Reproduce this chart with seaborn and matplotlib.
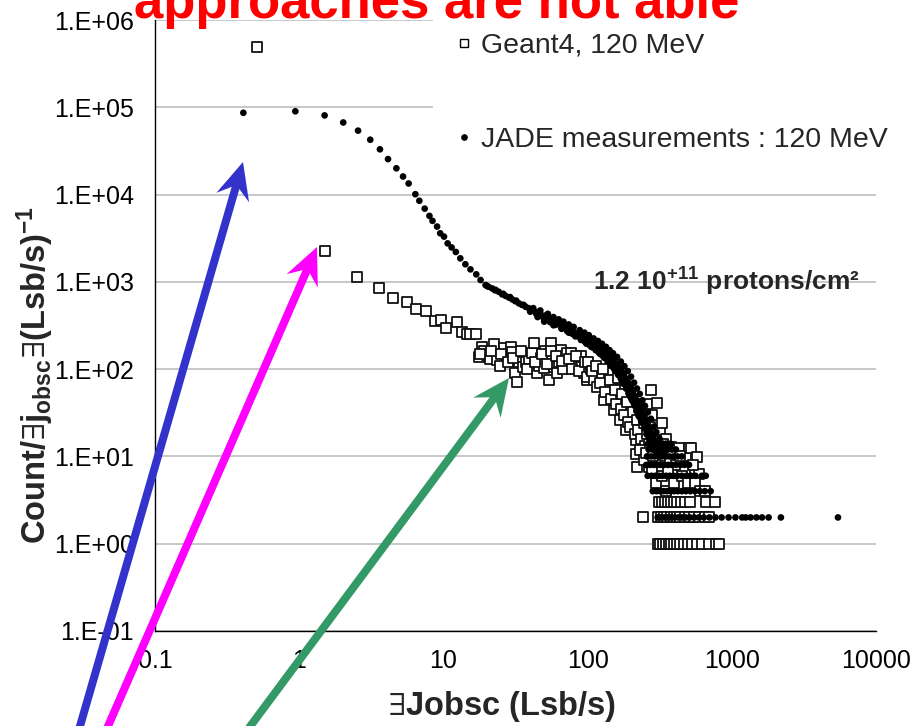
import numpy as np
import pandas as pd
import matplotlib
matplotlib.use("Agg")
import matplotlib.pyplot as plt
import seaborn as sns
from matplotlib.lines import Line2D
from matplotlib.patches import Polygon

# ---------------------------------------------------------------------------
# Geant4 simulation, 120 MeV (counts per Jobsc bin)
# ---------------------------------------------------------------------------
geant_x = [
    0.51, 1.52, 2.50, 3.56, 4.50, 5.59, 6.49, 7.58, 8.71, 9.68, 10.5, 12.4,
    13.5, 14.5, 15.4, 16.7, 17.6, 18.6, 19.0, 20.1, 21.0, 22.3, 23.5, 24.5,
    26.2, 27.5, 29.2, 29.9, 31.6, 32.5, 33.5, 35.5, 37.1, 39.0, 41.2, 42.4,
    44.7, 46.0, 47.2, 49.8, 51.0, 53.9, 55.3, 57.0, 58.3, 61.7, 63.0, 65.0,
    68.0, 70.0, 72.3, 76.3, 80.4, 85.0, 89.3, 90.0, 94.2, 99.4,
    18.0, 21.5, 25.0, 28.0, 30.5, 34.5, 38.0, 43.5, 48.5, 52.5, 56.0, 60.0,
    66.5, 74.0, 78.0, 83.0, 87.0, 96.0,
    99.4, 105, 110, 117, 125, 130, 135, 140, 150, 152, 160, 165, 169, 175,
    180, 184, 195, 200, 210, 215, 215, 221, 230, 240, 250, 260, 267, 274,
    280, 290, 305, 310, 320, 330, 340, 350, 360, 377, 395, 420, 428, 450,
    480, 505, 519, 578, 593,
    100, 108, 115, 122, 128, 132, 142, 145, 155, 158, 163, 170, 172, 178,
    188, 190, 198, 205, 212, 220, 225, 235, 245, 252, 258, 265, 272, 285,
    295, 300, 315, 325, 335, 345, 370, 385, 410, 440, 470, 540,
    230, 245, 255, 285, 280, 300, 330, 350, 360, 400, 450, 500, 560, 600, 650,
    311, 328, 345, 362, 380, 400, 420, 445, 470, 510, 660, 770,
    241, 306, 322, 340, 358, 376, 395, 415, 440, 470, 505, 545, 590, 650, 700,
    306, 320, 335, 350, 365, 380, 398, 418, 440, 465, 495, 530, 570, 620,
    690, 780, 810,
]
geant_y = [
    490000, 2250, 1140, 855, 647, 582, 484, 466, 356, 365, 293, 349,
    268, 252, 250, 252, 137, 181, 160, 145, 130, 194, 127, 110,
    173, 140, 181, 158, 89.5, 70.6, 120, 105, 122, 130, 152, 197,
    89.5, 110, 133, 102, 160, 75, 197, 130, 107, 89.5, 120, 166,
    100, 135, 152, 152, 116, 125, 107, 140, 89.5, 75,
    150, 160, 150, 120, 135, 160, 100, 120, 150, 115, 160, 140,
    125, 130, 100, 140, 95, 120,
    81.9, 100, 75, 62.8, 85, 44.3, 60, 90, 70, 34, 50, 60, 26, 40,
    48, 20, 30, 38, 25, 15.4, 10.8, 7.6, 30, 20, 16, 40, 7.6, 57.5,
    30, 18, 40.5, 15, 20, 24, 12, 16, 11, 12.9, 9, 12, 12.6, 8,
    10, 12.6, 12.6, 9.9, 6.3,
    120, 95, 110, 70, 100, 55, 75, 45, 58, 40, 80, 35, 52, 30,
    42, 25, 22, 32, 18, 26, 20, 16, 24, 13, 18, 14, 22, 13,
    15, 11, 12, 9, 14, 10, 9, 11, 8, 10, 7, 8,
    12, 9, 11, 10, 7, 5, 6, 4, 7, 5, 6, 5, 5, 4, 4,
    3, 3, 3, 3, 3, 3, 3, 3, 3, 3, 3, 3,
    2, 2, 2, 2, 2, 2, 2, 2, 2, 2, 2, 2, 2, 2, 2,
    1, 1, 1, 1, 1, 1, 1, 1, 1, 1, 1, 1, 1, 1,
    1, 1, 1,
]

# ---------------------------------------------------------------------------
# JADE measurements, 120 MeV
# ---------------------------------------------------------------------------
jade_x = [
    0.41, 0.94, 1.50, 2.02, 2.56, 3.11, 3.63, 4.13, 4.72, 5.25, 5.74, 6.39,
    6.81, 7.42, 8.00, 8.40, 9.04, 9.50, 10.1, 10.7, 11.4, 12.2, 13.1, 14.2,
    15.4, 16.9, 18.1, 19.6, 20.5, 21.8, 22.8, 24.2, 25.5, 27.0, 28.5, 30.0,
    31.5, 33.4, 35.0, 37.1, 39.0,
    40, 44, 48, 52, 56, 60, 65, 70, 75, 80, 86, 92, 98, 104, 110, 116, 122,
    128, 134, 140, 147, 154, 160, 167, 174, 180, 187, 194, 200, 207, 214,
    220, 227, 234, 240, 248, 255, 262, 270, 280, 292, 305,
    42, 47, 53, 58, 63, 68, 74, 80, 88, 95, 102, 110, 118, 126, 134, 142,
    150, 160, 170, 180, 190, 200, 210, 220, 230, 240, 250, 262, 275, 288,
    300, 315, 330, 350,
    50, 58, 66, 74, 82, 90, 98, 106, 114, 122, 130, 138, 146, 154, 162, 170,
    178, 186, 194, 202, 210, 218, 226, 236, 246, 256, 266, 278, 290, 300,
    20, 23, 26, 29, 32, 36, 41, 45, 50, 55, 59, 64, 69, 74, 79, 85, 91, 97,
    103, 109, 115, 121, 127, 133, 139, 145, 152, 158, 165, 172, 178, 185,
    192, 199, 206, 213, 220, 228, 236, 244, 252, 262, 272, 284, 298, 312,
    328, 345,
    45, 50, 55, 60, 66, 72, 78, 84, 90, 96, 102, 108, 114, 120, 126, 132,
    138, 144, 150, 157, 164, 171, 178, 185, 192, 198, 205, 212, 219, 226,
    233, 241, 250, 258, 266, 276, 286, 298, 310,
    262, 278, 295, 312, 330, 350, 375,
    265, 282, 300, 318, 338, 360, 385, 410,
    258, 275, 292, 310, 328, 348, 370, 395, 420, 450,
    255, 270, 286, 302, 320, 340, 362, 385, 410, 440, 470, 505,
    261, 278, 295, 312, 330, 350, 372, 395, 420, 450, 485, 520, 560, 620, 660,
    283, 300, 318, 336, 355, 375, 398, 422, 450, 480, 515, 555, 600, 650, 714,
    306, 322, 340, 358, 378, 400, 425, 452, 480, 512, 548, 590, 640, 700,
    770, 850, 950, 1060, 1180, 1250, 1350, 1480, 1620, 1800, 2190, 5450,
]
jade_y = [
    86500, 90000, 80700, 67000, 54000, 42500, 33000, 25500, 20000, 16100,
    13400, 10100, 8500, 6900, 5700, 5000, 4300, 3600, 3300, 2760, 2480, 2200,
    1860, 1590, 1390, 1220, 1050, 920, 880, 840, 800, 770, 720, 690, 660, 630,
    600, 567, 545, 519, 500,
    455, 430, 405, 385, 365, 340, 318, 298, 278, 260, 242, 225, 210, 198, 185,
    175, 165, 156, 147, 138, 127, 118, 108, 98, 88, 80, 70, 63, 56, 50, 44,
    40, 35, 31, 28, 24, 22, 20, 18, 16, 14, 13,
    500, 470, 430, 395, 372, 350, 325, 305, 280, 262, 245, 225, 210, 195, 180,
    165, 152, 138, 122, 108, 95, 82, 70, 60, 52, 44, 38, 32, 27, 22,
    19, 16, 14, 12,
    350, 318, 290, 262, 238, 216, 196, 180, 165, 150, 136, 122, 110, 98, 88,
    78, 68, 60, 52, 45, 39, 33, 29, 25, 21, 18, 16, 14, 12, 11,
    900, 810, 730, 670, 610, 545, 480, 450, 410, 380, 362, 335, 312, 292, 275,
    255, 238, 222, 210, 195, 185, 175, 165, 155, 145, 135, 125, 116, 105, 95,
    86, 78, 70, 62, 55, 49, 44, 38, 33, 29, 26, 23, 20, 17, 15, 13,
    11.5, 10.5,
    395, 370, 345, 322, 296, 274, 255, 238, 220, 205, 191, 178, 166, 154, 144,
    134, 124, 114, 105, 95, 85, 76, 68, 60, 53, 48, 43, 38, 34, 30,
    27, 24, 21, 18.5, 16.5, 15, 13.5, 12, 10.5,
    14, 14, 14, 14, 14, 14, 14,
    12, 12, 12, 12, 12, 12, 12, 12,
    10, 10, 10, 10, 10, 10, 10, 10, 10, 10,
    8, 8, 8, 8, 8, 8, 8, 8, 8, 8, 8, 8,
    6, 6, 6, 6, 6, 6, 6, 6, 6, 6, 6, 6, 6, 6, 6,
    4, 4, 4, 4, 4, 4, 4, 4, 4, 4, 4, 4, 4, 4, 4,
    2, 2, 2, 2, 2, 2, 2, 2, 2, 2, 2, 2, 2, 2,
    2, 2, 2, 2, 2, 2, 2, 2, 2, 2, 2, 2,
]

legend_labels = ["Geant4, 120 MeV", "JADE measurements : 120 MeV"]
x_tick_values = [0.1, 1, 10, 100, 1000, 10000]
x_tick_labels = ["0.1", "1", "10", "100", "1000", "10000"]
y_tick_values = [1e-1, 1e0, 1e1, 1e2, 1e3, 1e4, 1e5, 1e6]
y_tick_labels = ["1.E-01", "1.E+00", "1.E+01", "1.E+02", "1.E+03",
                 "1.E+04", "1.E+05", "1.E+06"]

title_text = "approaches are not able"
fluence_text = r"1.2 10$^{\mathbf{+11}}$ protons/cm²"
x_title = r"$\exists$Jobsc (Lsb/s)"
y_title = r"Count/$\exists$j$_{\mathbf{obsc}}$$\exists$(Lsb/s)$^{\mathbf{-1}}$"

# ---------------------------------------------------------------------------
sns.set_style("white")
plt.rcParams["font.family"] = ["Liberation Sans", "DejaVu Sans"]
plt.rcParams["mathtext.fontset"] = "custom"
plt.rcParams["mathtext.rm"] = "Liberation Sans:bold"
plt.rcParams["mathtext.bf"] = "Liberation Sans:bold"
plt.rcParams["mathtext.it"] = "Liberation Sans:bold"
plt.rcParams["mathtext.fallback"] = "stixsans"

W, H = 915, 726
fig = plt.figure(figsize=(W / 100, H / 100), dpi=100)
fig.patch.set_facecolor("white")
ax = fig.add_axes([155 / W, (H - 631) / H, (876 - 155) / W, (631 - 20) / H])
ax.set_facecolor("white")

geant = pd.DataFrame({"x": geant_x, "y": geant_y})
jade = pd.DataFrame({"x": jade_x, "y": jade_y})

ax.set_xscale("log")
ax.set_yscale("log")
sns.scatterplot(data=geant, x="x", y="y", marker="s", s=60, color="white",
                edgecolor="#111111", linewidth=1.3, ax=ax, legend=False,
                zorder=3, clip_on=False)
sns.scatterplot(data=jade, x="x", y="y", marker="o", s=23, color="black",
                edgecolor="none", linewidth=0, ax=ax, legend=False,
                zorder=4, clip_on=False)

ax.set_xlim(0.1, 10000)
ax.set_ylim(0.1, 1e6)
ax.set_xticks(x_tick_values)
ax.set_xticklabels(x_tick_labels)
ax.set_yticks(y_tick_values)
ax.set_yticklabels(y_tick_labels)
ax.minorticks_off()

ax.grid(False)
ax.yaxis.grid(True, color="#c4c4c4", linewidth=1.3)
ax.set_axisbelow(True)
for side in ("top", "right"):
    ax.spines[side].set_visible(False)
for side in ("left", "bottom"):
    ax.spines[side].set_color("black")
    ax.spines[side].set_linewidth(1.0)

ax.tick_params(axis="both", direction="out", length=6, width=1,
               color="black", labelsize=18, labelcolor="black")
ax.tick_params(axis="y", pad=9)
ax.tick_params(axis="x", pad=7)

ax.set_xlabel(x_title, fontsize=23.5, fontweight="bold")
ax.set_ylabel(y_title, fontsize=23.5, fontweight="bold")
ax.xaxis.set_label_coords((501 - 155) / 721, (631 - 706) / 611)
ax.xaxis.label.set_va("center")
ax.yaxis.set_label_coords((35 - 155) / 721, (631 - 375) / 611)
ax.yaxis.label.set_va("center")

handles = [
    Line2D([], [], ls="none", marker="s", markersize=6,
           markerfacecolor="white", markeredgecolor="black",
           markeredgewidth=1.0),
    Line2D([], [], ls="none", marker="o", markersize=3.8,
           markerfacecolor="black", markeredgecolor="black"),
]
leg = ax.legend(handles, legend_labels, loc="upper left",
                bbox_to_anchor=(433 / W, (H - 10) / H),
                bbox_transform=fig.transFigure, frameon=True,
                facecolor="white", edgecolor="none", framealpha=1,
                fancybox=False, fontsize=20.5, borderpad=0.8,
                labelspacing=2.38, handlelength=0.6, handletextpad=0.3,
                borderaxespad=0)
leg.set_zorder(5)

fig.text(593 / W, 1 - 291 / H, fluence_text, fontsize=19, fontweight="bold",
         ha="left", va="baseline")

fig.text(437 / W, 1 - 18 / H, title_text, fontsize=38, fontweight="bold",
         color="#FF0000", ha="center", va="baseline")


def draw_arrow(tail, tip, color, shaft=4.0, head_len=37, head_half=17,
               notch=10):
    """Notched arrow given in figure pixels measured from the top-left."""
    x0, y0 = tail[0], H - tail[1]
    x1, y1 = tip[0], H - tip[1]
    dx, dy = x1 - x0, y1 - y0
    length = np.hypot(dx, dy)
    ux, uy = dx / length, dy / length
    nx, ny = -uy, ux
    bx, by = x1 - head_len * ux, y1 - head_len * uy
    jx, jy = x1 - (head_len - notch) * ux, y1 - (head_len - notch) * uy
    pts = [
        (x0 + shaft * nx, y0 + shaft * ny),
        (jx + shaft * nx, jy + shaft * ny),
        (bx + head_half * nx, by + head_half * ny),
        (x1, y1),
        (bx - head_half * nx, by - head_half * ny),
        (jx - shaft * nx, jy - shaft * ny),
        (x0 - shaft * nx, y0 - shaft * ny),
    ]
    pts = [(px / W, py / H) for px, py in pts]
    fig.add_artist(Polygon(pts, closed=True, transform=fig.transFigure,
                           facecolor=color, edgecolor="none", zorder=10))


draw_arrow((76, 740), (243, 162), "#3333CC")
draw_arrow((102, 740), (317, 247), "#FF00FF")
draw_arrow((240, 740), (509, 378), "#339966")

fig.savefig("out.png", dpi=100, facecolor="white")
